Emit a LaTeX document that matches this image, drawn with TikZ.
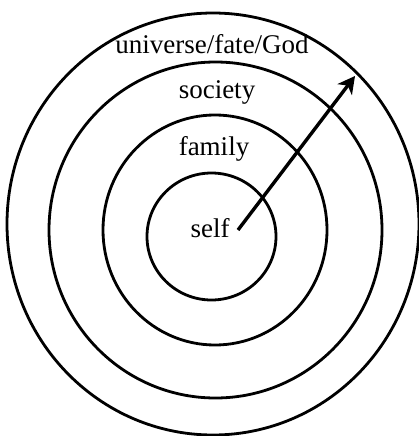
\documentclass[tikz,border=0pt]{standalone}
\usepackage{fontspec}
\setmainfont{Liberation Serif}
\usetikzlibrary{arrows.meta}
\begin{document}
\begin{tikzpicture}[x=1pt,y=-1pt,
  ring/.style={draw=black, line width=2.8pt},
  lbl/.style={font=\fontsize{27}{27}\selectfont, inner sep=0pt, anchor=base},
  arr/.style={line width=3.4pt, -{Stealth[length=17pt, width=18pt, inset=5pt]}}]
\useasboundingbox (0,0) rectangle (419,436);
\clip (0,0) rectangle (419,436);
\fill[white] (0,0) rectangle (419,436);
\draw[ring] (213,224) ellipse [x radius=206pt, y radius=211pt];
\draw[ring] (215.5,230) ellipse [x radius=166.5pt, y radius=168pt];
\draw[ring] (215,230) ellipse [x radius=112pt, y radius=115pt];
\draw[ring] (211.5,236.5) ellipse [x radius=64.5pt, y radius=63.5pt];
\node[lbl] (universe) at (212,54) {universe/fate/God};
\node[lbl] (society) at (217,98) {society};
\node[lbl] (family) at (214,155) {family};
\node[lbl] (self) at (210,237) {self};
\coordinate (start) at (238,230);
\coordinate (tip) at (355,76);
\draw[arr] (start) -- (tip);
\end{tikzpicture}
\end{document}
